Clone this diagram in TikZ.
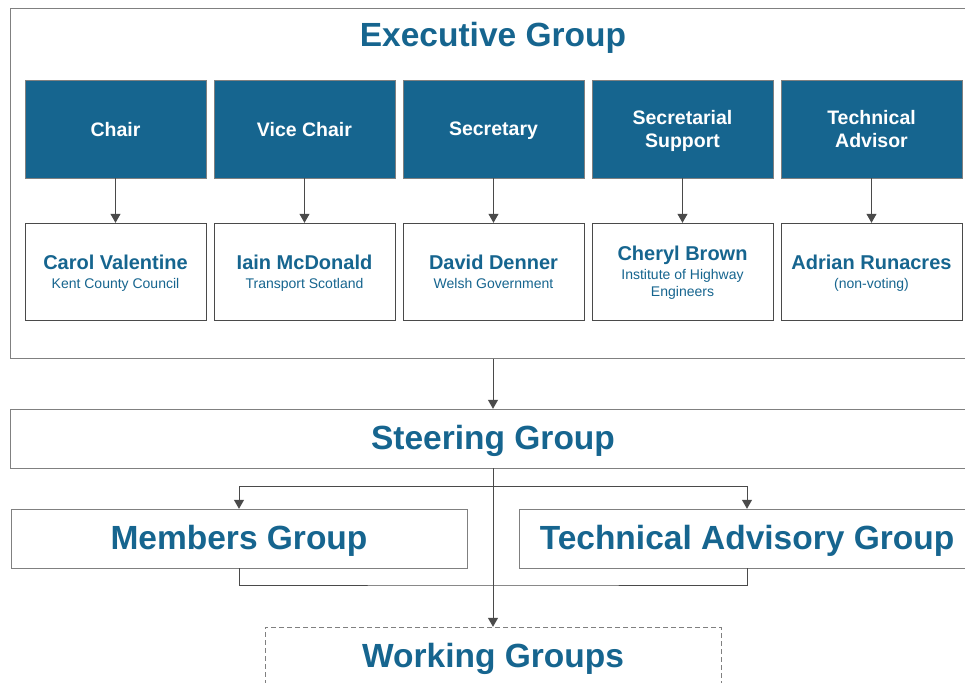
\documentclass[tikz,border=0pt]{standalone}
\usepackage{fontspec}
\setmainfont{Liberation Sans}
\usetikzlibrary{arrows.meta,positioning}
\definecolor{exblue}{HTML}{16658F}
\definecolor{lineg}{HTML}{4A4A4A}
\definecolor{frameg}{HTML}{808080}
\tikzset{
	role/.style={draw=frameg, fill=exblue, text=white, font=\bfseries\fontsize{19.5}{23}\selectfont, minimum width=181pt, minimum height=98pt, inner sep=0pt, text depth=0pt, align=center},
	person/.style={draw=lineg, fill=white, text=exblue, font=\fontsize{14}{17}\selectfont, minimum width=181pt, minimum height=97pt, inner sep=0pt, text depth=0pt, align=center},
	group/.style={draw=frameg, text=exblue, font=\bfseries\fontsize{33.5}{38}\selectfont, minimum width=456pt, minimum height=59pt, inner sep=0pt, text depth=3pt},
	link/.style={draw=lineg, line width=1pt, -{Triangle[width=10pt,length=9pt]}},
	joint/.style={draw=lineg, line width=1pt},
}
\newcommand{\who}[1]{{\bfseries\fontsize{20}{24}\selectfont #1}\\[2pt]}
\begin{document}
\begin{tikzpicture}[x=1pt,y=-1pt]
			\clip (0,0) rectangle (965,682);
			\fill[white] (0,0) rectangle (965,682);
			% executive group frame
			\node [draw=frameg, line width=1pt, minimum width=966pt, minimum height=349pt, inner sep=0pt] (exec) at (493,183.5) {};
			\node [text=exblue, font=\bfseries\fontsize{33.5}{38}\selectfont, text depth=3pt] (exectitle) at (493,36) {Executive Group};
			\node [role] (chair) at (115.5,129) {Chair};
			\node [role] (vice) at (304.5,129) {Vice Chair};
			\node [role] (sec) at (493.5,129) {Secretary};
			\node [role] (secsup) at (682.5,129) {Secretarial\\Support};
			\node [role] (tech) at (871.5,129) {Technical\\Advisor};
			\node [person] (carol) at (115.5,271.5) {\who{Carol Valentine}Kent County Council};
			\node [person] (iain) at (304.5,271.5) {\who{Iain McDonald}Transport Scotland};
			\node [person] (david) at (493.5,271.5) {\who{David Denner}Welsh Government};
			\node [person] (cheryl) at (682.5,271.5) {\who{Cheryl Brown}Institute of Highway\\Engineers};
			\node [person] (adrian) at (871.5,271.5) {\who{Adrian Runacres}(non-voting)};
			\draw [link] (chair) -- (carol);
			\draw [link] (vice) -- (iain);
			\draw [link] (sec) -- (david);
			\draw [link] (secsup) -- (cheryl);
			\draw [link] (tech) -- (adrian);
			% lower groups
			\node [group, minimum width=966pt] (steer) at (493,438.5) {Steering Group};
			\node [group] (members) at (239,538.5) {Members Group};
			\node [group] (tag) at (747,538.5) {Technical Advisory Group};
			\node [group, dash pattern=on 5pt off 3pt] (working) at (493,656.5) {Working Groups};
			\coordinate (split) at (493,486);
			\coordinate (merge) at (493,585);
			\draw [link] (exec) -- (steer);
			\draw [link] (split) -| (members.north);
			\draw [link] (split) -| (tag.north);
			\draw [joint] (members.south) |- (merge) -| (tag.south);
			\draw [link] (steer) -- (working);
		\end{tikzpicture}
\end{document}
